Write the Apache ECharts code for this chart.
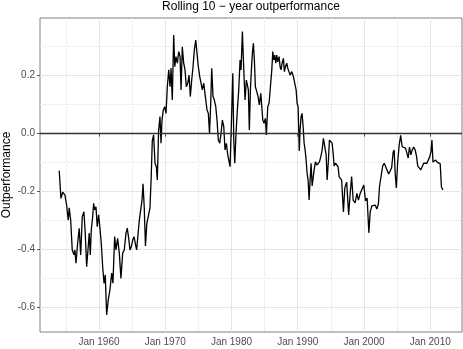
<!DOCTYPE html>
<html>
<head>
	<meta charset="utf-8" />
	<title>Rolling 10 - year outperformance</title>
	<style>
		html, body { margin: 0; padding: 0; background: #ffffff; }
		#main { width: 463px; height: 349px; }
	</style>
</head>
<body>
	<div id="main"></div>
	<script src="https://cdn.jsdelivr.net/npm/echarts@6/dist/echarts.min.js"></script>
	<script type="text/javascript">
		// decimal years
		var years = [
			1954.00, 1954.26, 1954.52, 1954.86, 1955.12, 1955.36, 1955.51, 1955.73, 1955.97, 1956.22,
			1956.37, 1956.53, 1956.78, 1957.02, 1957.24, 1957.48, 1957.73, 1957.93, 1958.14, 1958.34,
			1958.53, 1958.69, 1958.84, 1959.05, 1959.20, 1959.35, 1959.55, 1959.74, 1959.95, 1960.15,
			1960.35, 1960.56, 1960.76, 1960.95, 1961.16, 1961.40, 1961.66, 1961.92, 1962.11, 1962.37,
			1962.57, 1962.82, 1963.07, 1963.32, 1963.58, 1963.82, 1964.08, 1964.27, 1964.49, 1964.68,
			1964.88, 1965.09, 1965.29, 1965.48, 1965.69, 1965.89, 1966.09, 1966.30, 1966.50, 1966.65,
			1966.83, 1967.02, 1967.22, 1967.48, 1967.70, 1967.89, 1968.05, 1968.25, 1968.46, 1968.66,
			1968.81, 1969.00, 1969.21, 1969.37, 1969.52, 1969.71, 1969.92, 1970.12, 1970.32, 1970.53,
			1970.73, 1970.88, 1971.07, 1971.28, 1971.44, 1971.63, 1971.83, 1972.04, 1972.24, 1972.39,
			1972.58, 1972.79, 1972.99, 1973.19, 1973.40, 1973.60, 1973.79, 1974.00, 1974.20, 1974.40,
			1974.61, 1974.80, 1975.00, 1975.21, 1975.41, 1975.60, 1975.82, 1976.06, 1976.31, 1976.51,
			1976.69, 1976.87, 1977.02, 1977.22, 1977.42, 1977.63, 1977.82, 1978.02, 1978.23, 1978.43,
			1978.63, 1978.84, 1979.03, 1979.23, 1979.44, 1979.64, 1979.79, 1979.99, 1980.20, 1980.35,
			1980.50, 1980.69, 1980.89, 1981.10, 1981.30, 1981.45, 1981.65, 1981.86, 1982.05, 1982.25,
			1982.40, 1982.55, 1982.70, 1982.86, 1983.01, 1983.16, 1983.31, 1983.46, 1983.61, 1983.82,
			1984.02, 1984.21, 1984.43, 1984.58, 1984.73, 1984.92, 1985.12, 1985.27, 1985.48, 1985.68,
			1985.88, 1986.09, 1986.24, 1986.39, 1986.54, 1986.69, 1986.84, 1986.99, 1987.19, 1987.34,
			1987.49, 1987.64, 1987.84, 1987.99, 1988.14, 1988.35, 1988.50, 1988.70, 1988.85, 1989.11,
			1989.35, 1989.56, 1989.76, 1989.91, 1990.06, 1990.24, 1990.36, 1990.51, 1990.66, 1990.82,
			1990.97, 1991.12, 1991.27, 1991.42, 1991.57, 1991.72, 1991.87, 1992.02, 1992.18, 1992.33,
			1992.48, 1992.67, 1992.89, 1993.08, 1993.28, 1993.49, 1993.69, 1993.88, 1994.09, 1994.29,
			1994.44, 1994.64, 1994.79, 1995.00, 1995.20, 1995.35, 1995.50, 1995.70, 1995.91, 1996.10,
			1996.25, 1996.41, 1996.63, 1996.90, 1997.11, 1997.39, 1997.69, 1997.92, 1998.14, 1998.37,
			1998.67, 1998.93, 1999.17, 1999.43, 1999.73, 1999.98, 2000.23, 2000.48, 2000.74, 2000.94,
			2001.19, 2001.44, 2001.69, 2001.95, 2002.19, 2002.34, 2002.60, 2002.83, 2003.05, 2003.28,
			2003.50, 2003.73, 2003.96, 2004.18, 2004.41, 2004.56, 2004.71, 2004.89, 2005.09, 2005.32,
			2005.54, 2005.77, 2006.03, 2006.27, 2006.48, 2006.68, 2006.87, 2007.09, 2007.28, 2007.51,
			2007.73, 2007.93, 2008.11, 2008.34, 2008.57, 2008.79, 2009.02, 2009.25, 2009.50, 2009.77,
			2009.92, 2010.11, 2010.26, 2010.42, 2010.63, 2010.83, 2011.06, 2011.28, 2011.51, 2011.69,
			2011.92
		];
		// rolling 10-year outperformance
		var outperf = [
			-0.128, -0.223, -0.202, -0.211, -0.246, -0.298, -0.256, -0.298, -0.401, -0.418,
			-0.401, -0.447, -0.378, -0.326, -0.418, -0.286, -0.269, -0.343, -0.459, -0.401,
			-0.343, -0.418, -0.332, -0.286, -0.240, -0.263, -0.252, -0.321, -0.280, -0.326,
			-0.378, -0.459, -0.516, -0.487, -0.625, -0.573, -0.539, -0.481, -0.516, -0.355,
			-0.401, -0.361, -0.412, -0.499, -0.412, -0.401, -0.343, -0.326, -0.361, -0.401,
			-0.390, -0.367, -0.355, -0.378, -0.401, -0.349, -0.298, -0.292, -0.229, -0.173,
			-0.252, -0.387, -0.311, -0.315, -0.256, -0.146, -0.025, -0.004, -0.102, -0.114,
			-0.160, 0.009, 0.059, -0.033, 0.047, 0.082, 0.093, 0.070, 0.162, 0.220,
			0.162, 0.226, 0.116, 0.340, 0.231, 0.266, 0.243, 0.283, 0.266, 0.151,
			0.300, 0.243, 0.220, 0.162, 0.174, 0.202, 0.128, 0.185, 0.231, 0.289,
			0.323, 0.277, 0.231, 0.197, 0.174, 0.151, 0.174, 0.128, 0.082, 0.070,
			0.001, 0.105, 0.226, 0.128, 0.116, 0.093, 0.047, -0.022, -0.033, 0.001,
			0.047, 0.024, -0.056, -0.033, -0.073, -0.079, -0.114, 0.036, 0.208, -0.022,
			-0.102, 0.001, 0.082, 0.151, 0.254, 0.220, 0.352, 0.220, 0.116, 0.185,
			0.168, 0.151, 0.013, 0.151, 0.220, 0.277, 0.312, 0.254, 0.162, 0.145,
			0.128, 0.099, 0.139, 0.093, 0.047, 0.036, 0.053, -0.004, 0.093, 0.105,
			0.162, 0.220, 0.283, 0.254, 0.271, 0.243, 0.271, 0.248, 0.266, 0.231,
			0.220, 0.243, 0.260, 0.214, 0.231, 0.243, 0.226, 0.231, 0.202, 0.214,
			0.197, 0.202, 0.151, 0.105, 0.093, -0.060, 0.013, 0.059, 0.070, 0.024,
			-0.033, -0.056, -0.091, -0.137, -0.160, -0.229, -0.160, -0.102, -0.180, -0.183,
			-0.125, -0.097, -0.108, -0.102, -0.097, -0.079, -0.056, -0.016, -0.022, -0.073,
			-0.160, -0.091, -0.022, -0.016, -0.033, -0.068, -0.111, -0.102, -0.104, -0.114,
			-0.148, -0.146, -0.160, -0.270, -0.187, -0.167, -0.280, -0.206, -0.148, -0.229,
			-0.239, -0.206, -0.229, -0.206, -0.211, -0.177, -0.232, -0.222, -0.342, -0.270,
			-0.249, -0.252, -0.246, -0.260, -0.240, -0.183, -0.177, -0.111, -0.102, -0.114,
			-0.118, -0.139, -0.136, -0.118, -0.063, -0.056, -0.136, -0.187, -0.098, -0.039,
			-0.006, -0.045, -0.039, -0.050, -0.067, -0.084, -0.046, -0.073, -0.056, -0.046,
			-0.056, -0.077, -0.111, -0.117, -0.125, -0.131, -0.102, -0.102, -0.102, -0.108,
			-0.080, -0.063, -0.022, -0.098, -0.104, -0.091, -0.098, -0.097, -0.104, -0.184,
			-0.194
		];
		var xTicks = [1960, 1970, 1980, 1990, 2000, 2010];
		var yTicks = [-0.6, -0.4, -0.2, 0, 0.2];

		var seriesData = [];
		for (var i = 0; i < years.length; i++) {
			seriesData.push([years[i], outperf[i]]);
		}

		var myChart = echarts.init(document.getElementById('main'));
		var option = {
			animation: false,
			backgroundColor: '#ffffff',
			title: {
				text: 'Rolling 10 \u2212 year outperformance',
				left: 251,
				top: 1,
				padding: 0,
				textAlign: 'center',
				textStyle: {
					fontFamily: 'Liberation Sans',
					fontSize: 12,
					fontWeight: 'normal',
					color: '#000000'
				}
			},
			grid: {
				left: 40,
				right: 1,
				top: 18,
				bottom: 17,
				containLabel: false,
				outerBoundsMode: 'none',
				show: true,
				borderColor: '#808080',
				borderWidth: 1,
				backgroundColor: 'transparent'
			},
			xAxis: {
				type: 'value',
				min: 1951.1,
				max: 2014.8,
				splitNumber: 6,
				axisLine: { show: false },
				axisTick: {
					show: true,
					length: 3,
					customValues: xTicks,
					lineStyle: { color: '#555555' }
				},
				axisLabel: {
					customValues: xTicks,
					margin: 5,
					fontFamily: 'Liberation Sans',
					fontSize: 10,
					color: '#4d4d4d',
					formatter: function(v) { return 'Jan ' + Math.round(v); }
				},
				splitLine: { show: true, lineStyle: { color: '#e5e5e5', width: 1 } },
				minorTick: { show: false, splitNumber: 2 },
				minorSplitLine: { show: true, lineStyle: { color: '#e3e3e3', width: 1, type: 'dotted' } }
			},
			yAxis: {
				type: 'value',
				min: -0.684,
				max: 0.399,
				splitNumber: 5,
				name: 'Outperformance',
				nameLocation: 'middle',
				nameRotate: 90,
				nameGap: 27,
				nameMoveOverlap: false,
				nameTextStyle: {
					fontFamily: 'Liberation Sans',
					fontSize: 12,
					color: '#000000'
				},
				axisLine: { show: false },
				axisTick: {
					show: true,
					length: 3,
					customValues: yTicks,
					lineStyle: { color: '#555555' }
				},
				axisLabel: {
					customValues: yTicks,
					margin: 5,
					fontFamily: 'Liberation Sans',
					fontSize: 10,
					color: '#4d4d4d',
					formatter: function(v) { return v.toFixed(1); }
				},
				splitLine: { show: true, lineStyle: { color: '#e5e5e5', width: 1 } },
				minorTick: { show: false, splitNumber: 2 },
				minorSplitLine: { show: true, lineStyle: { color: '#e3e3e3', width: 1, type: 'dotted' } }
			},
			series: [{
				name: 'Outperformance',
				type: 'line',
				data: seriesData,
				showSymbol: false,
				symbol: 'none',
				lineStyle: { color: '#000000', width: 1.3 },
				markLine: {
					silent: true,
					symbol: 'none',
					label: { show: false },
					lineStyle: { color: '#333333', width: 1.3, type: 'solid' },
					data: [{ yAxis: 0 }]
				}
			}]
		};
		myChart.setOption(option);
		window.onresize = myChart.resize;
	</script>
</body>
</html>
